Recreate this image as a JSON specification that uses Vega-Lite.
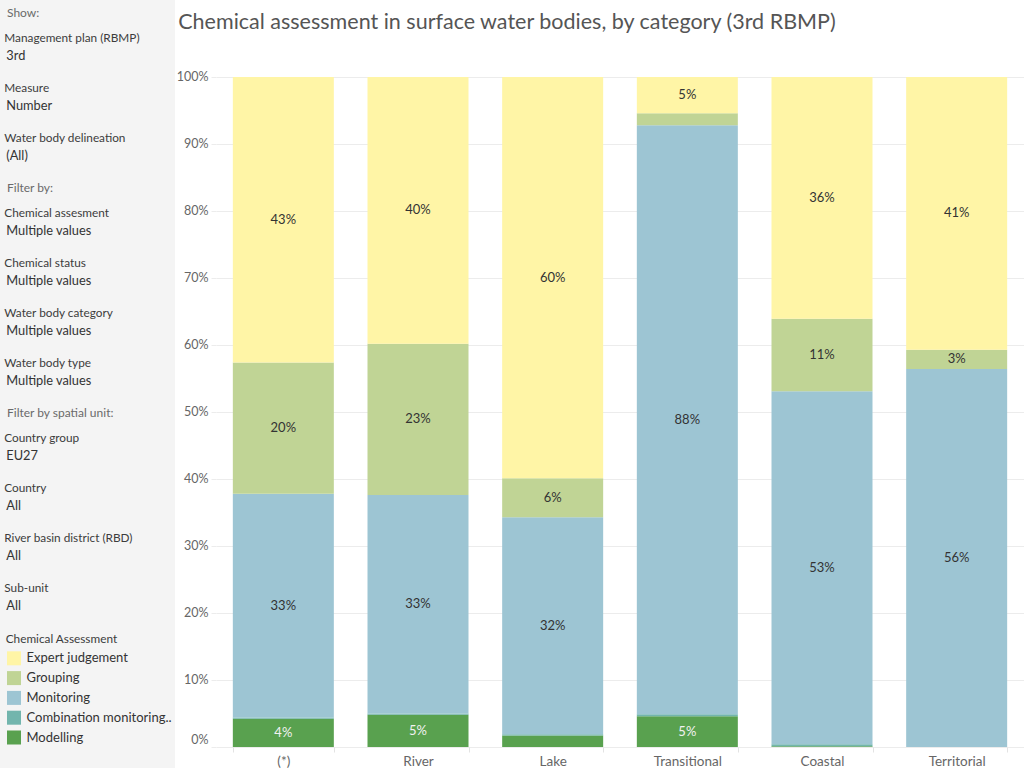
{
  "$schema": "https://vega.github.io/schema/vega-lite/v6.json",
  "padding": 0,
  "background": "white",
  "spacing": 1,
  "config": {"view": {"stroke": null}, "font": "Lato"},
  "datasets": {
    "bars": [
      {"category": "(*)", "assessment": "Modelling", "share": 0.042},
      {"category": "(*)", "assessment": "Combination monitoring..", "share": 0.002},
      {"category": "(*)", "assessment": "Monitoring", "share": 0.334},
      {"category": "(*)", "assessment": "Grouping", "share": 0.196},
      {"category": "(*)", "assessment": "Expert judgement", "share": 0.426},
      {"category": "River", "assessment": "Modelling", "share": 0.048},
      {"category": "River", "assessment": "Combination monitoring..", "share": 0.002},
      {"category": "River", "assessment": "Monitoring", "share": 0.326},
      {"category": "River", "assessment": "Grouping", "share": 0.226},
      {"category": "River", "assessment": "Expert judgement", "share": 0.398},
      {"category": "Lake", "assessment": "Modelling", "share": 0.017},
      {"category": "Lake", "assessment": "Combination monitoring..", "share": 0.002},
      {"category": "Lake", "assessment": "Monitoring", "share": 0.324},
      {"category": "Lake", "assessment": "Grouping", "share": 0.058},
      {"category": "Lake", "assessment": "Expert judgement", "share": 0.599},
      {"category": "Transitional", "assessment": "Modelling", "share": 0.046},
      {"category": "Transitional", "assessment": "Combination monitoring..", "share": 0.003},
      {"category": "Transitional", "assessment": "Monitoring", "share": 0.879},
      {"category": "Transitional", "assessment": "Grouping", "share": 0.018},
      {"category": "Transitional", "assessment": "Expert judgement", "share": 0.054},
      {"category": "Coastal", "assessment": "Modelling", "share": 0.001},
      {"category": "Coastal", "assessment": "Combination monitoring..", "share": 0.003},
      {"category": "Coastal", "assessment": "Monitoring", "share": 0.527},
      {"category": "Coastal", "assessment": "Grouping", "share": 0.108},
      {"category": "Coastal", "assessment": "Expert judgement", "share": 0.361},
      {"category": "Territorial", "assessment": "Monitoring", "share": 0.564},
      {"category": "Territorial", "assessment": "Grouping", "share": 0.029},
      {"category": "Territorial", "assessment": "Expert judgement", "share": 0.407}
    ],
    "filters": [
      {"section": "Show:", "name": "Management plan (RBMP)", "value": "3rd"},
      {"section": "Show:", "name": "Measure", "value": "Number"},
      {"section": "Show:", "name": "Water body delineation", "value": "(All)"},
      {"section": "Filter by:", "name": "Chemical assesment", "value": "Multiple values"},
      {"section": "Filter by:", "name": "Chemical status", "value": "Multiple values"},
      {"section": "Filter by:", "name": "Water body category", "value": "Multiple values"},
      {"section": "Filter by:", "name": "Water body type", "value": "Multiple values"},
      {"section": "Filter by spatial unit:", "name": "Country group", "value": "EU27"},
      {"section": "Filter by spatial unit:", "name": "Country", "value": "All"},
      {"section": "Filter by spatial unit:", "name": "River basin district (RBD)", "value": "All"},
      {"section": "Filter by spatial unit:", "name": "Sub-unit", "value": "All"}
    ]
  },
  "hconcat": [
    {
      "width": 175,
      "height": 768,
      "view": {"fill": "#f4f4f4", "stroke": null},
      "layer": [
        {
          "data": {"name": "filters"},
          "layer": [
            {
              "transform": [{"aggregate": [{"op": "count", "as": "n"}], "groupby": ["section"]}],
              "mark": {"type": "text", "align": "left", "baseline": "middle", "fontSize": 12, "color": "#6a6a6a"},
              "encoding": {
                "x": {"datum": 7, "type": "quantitative", "scale": {"domain": [0, 175]}, "axis": null},
                "y": {"field": "section", "type": "nominal", "axis": null,
                      "scale": {"type": "point", "padding": 0, "range": [13.3, 588.3],
                                "domain": ["Show:", "Management plan (RBMP)", "gap 1", "Measure", "gap 2", "Water body delineation", "gap 3", "Filter by:", "Chemical assesment", "gap 4", "Chemical status", "gap 5", "Water body category", "gap 6", "Water body type", "gap 7", "Filter by spatial unit:", "Country group", "gap 8", "Country", "gap 9", "River basin district (RBD)", "gap 10", "Sub-unit"]}},
                "text": {"field": "section"}
              }
            },
            {
              "mark": {"type": "text", "align": "left", "baseline": "middle", "fontSize": 11.8, "color": "#3c3c3c"},
              "encoding": {
                "x": {"datum": 4.3, "type": "quantitative", "scale": {"domain": [0, 175]}, "axis": null},
                "y": {"field": "name", "type": "nominal", "axis": null,
                      "scale": {"type": "point", "padding": 0, "range": [13.3, 588.3],
                                "domain": ["Show:", "Management plan (RBMP)", "gap 1", "Measure", "gap 2", "Water body delineation", "gap 3", "Filter by:", "Chemical assesment", "gap 4", "Chemical status", "gap 5", "Water body category", "gap 6", "Water body type", "gap 7", "Filter by spatial unit:", "Country group", "gap 8", "Country", "gap 9", "River basin district (RBD)", "gap 10", "Sub-unit"]}},
                "text": {"field": "name"}
              }
            },
            {
              "mark": {"type": "text", "align": "left", "baseline": "middle", "fontSize": 12.8, "color": "#333333", "dy": 18},
              "encoding": {
                "x": {"datum": 6.3, "type": "quantitative", "scale": {"domain": [0, 175]}, "axis": null},
                "y": {"field": "name", "type": "nominal", "axis": null,
                      "scale": {"type": "point", "padding": 0, "range": [13.3, 588.3],
                                "domain": ["Show:", "Management plan (RBMP)", "gap 1", "Measure", "gap 2", "Water body delineation", "gap 3", "Filter by:", "Chemical assesment", "gap 4", "Chemical status", "gap 5", "Water body category", "gap 6", "Water body type", "gap 7", "Filter by spatial unit:", "Country group", "gap 8", "Country", "gap 9", "River basin district (RBD)", "gap 10", "Sub-unit"]}},
                "text": {"field": "value"}
              }
            }
          ]
        },
        {
          "layer": [
            {
              "data": {"values": [{"label": "Chemical Assessment"}]},
              "mark": {"type": "text", "align": "left", "baseline": "middle", "fontSize": 11.8, "color": "#3c3c3c"},
              "encoding": {
                "x": {"datum": 5.7, "type": "quantitative", "scale": {"domain": [0, 175]}, "axis": null},
                "y": {"field": "label", "type": "nominal", "axis": null,
                      "scale": {"type": "point", "padding": 0, "range": [638.5, 737.5],
                                "domain": ["Chemical Assessment", "Expert judgement", "Grouping", "Monitoring", "Combination monitoring..", "Modelling"]}},
                "text": {"field": "label"}
              }
            },
            {
              "data": {"name": "bars"},
              "transform": [{"aggregate": [{"op": "count", "as": "n"}], "groupby": ["assessment"]}],
              "mark": {"type": "square", "size": 196, "opacity": 1},
              "encoding": {
                "x": {"datum": 14, "type": "quantitative", "scale": {"domain": [0, 175]}, "axis": null},
                "y": {"field": "assessment", "type": "nominal", "axis": null,
                      "scale": {"type": "point", "padding": 0, "range": [638.5, 737.5],
                                "domain": ["Chemical Assessment", "Expert judgement", "Grouping", "Monitoring", "Combination monitoring..", "Modelling"]}},
                "color": {"field": "assessment", "type": "nominal", "legend": null,
                          "scale": {"domain": ["Expert judgement", "Grouping", "Monitoring", "Combination monitoring..", "Modelling"],
                                    "range": ["#fff5a6", "#c0d495", "#9dc5d3", "#72b5ad", "#59a14f"]}}
              }
            },
            {
              "data": {"name": "bars"},
              "transform": [{"aggregate": [{"op": "count", "as": "n"}], "groupby": ["assessment"]}],
              "mark": {"type": "text", "align": "left", "baseline": "middle", "fontSize": 13, "color": "#333333"},
              "encoding": {
                "x": {"datum": 26.5, "type": "quantitative", "scale": {"domain": [0, 175]}, "axis": null},
                "y": {"field": "assessment", "type": "nominal", "axis": null,
                      "scale": {"type": "point", "padding": 0, "range": [638.5, 737.5],
                                "domain": ["Chemical Assessment", "Expert judgement", "Grouping", "Monitoring", "Combination monitoring..", "Modelling"]}},
                "text": {"field": "assessment"}
              }
            }
          ]
        }
      ],
      "resolve": {"scale": {"y": "independent"}}
    },
    {
      "width": 808,
      "height": 747,
      "title": {
        "text": "Chemical assessment in surface water bodies, by category (3rd RBMP)",
        "anchor": "start",
        "frame": "bounds",
        "baseline": "top",
        "fontSize": 21.5,
        "fontWeight": "normal",
        "color": "#555555",
        "dx": 2,
        "offset": -33
      },
      "data": {"name": "bars"},
      "transform": [
        {"calculate": "indexof(['Modelling', 'Combination monitoring..', 'Monitoring', 'Grouping', 'Expert judgement'], datum.assessment)", "as": "rank"}
      ],
      "encoding": {
        "x": {
          "field": "category", "type": "nominal",
          "sort": ["(*)", "River", "Lake", "Transitional", "Coastal", "Territorial"],
          "scale": {"paddingInner": 0.25, "paddingOuter": 0.125},
          "axis": {"title": null, "labelAngle": 0, "domain": false, "ticks": true, "tickBand": "extent", "tickSize": 5,
                   "tickColor": "#e3e3e3", "labelColor": "#666666", "labelFontSize": 13.5, "labelPadding": 2, "grid": false}
        },
        "y": {
          "field": "share", "type": "quantitative", "stack": "normalize",
          "scale": {"domain": [0, 1.1149], "nice": false},
          "axis": {"title": null, "format": ".0%", "values": [0, 0.1, 0.2, 0.3, 0.4, 0.5, 0.6, 0.7, 0.8, 0.9, 1],
                   "domain": false, "tickSize": 5, "tickColor": "#ececec", "gridColor": "#ececec",
                   "labelColor": "#666666", "labelFontSize": 12.5, "labelPadding": 3,
                   "labelOffset": {"condition": {"test": "datum.value === 0", "value": -8}, "value": 0}}
        },
        "order": {"field": "rank", "type": "quantitative"}
      },
      "layer": [
        {
          "mark": {"type": "bar"},
          "encoding": {
            "color": {"field": "assessment", "type": "nominal", "legend": null,
                      "scale": {"domain": ["Expert judgement", "Grouping", "Monitoring", "Combination monitoring..", "Modelling"],
                                "range": ["#fff5a6", "#c0d495", "#9dc5d3", "#72b5ad", "#59a14f"]}}
          }
        },
        {
          "mark": {"type": "text", "fontSize": 13, "baseline": "middle", "align": "center"},
          "encoding": {
            "y": {"field": "share", "type": "quantitative", "stack": "normalize", "bandPosition": 0.5},
            "detail": {"field": "assessment"},
            "text": {"condition": {"test": "datum.share >= 0.025", "field": "share", "type": "quantitative", "format": ".0%"}, "value": ""},
            "color": {"condition": {"test": "datum.assessment === 'Modelling'", "value": "#f2f2f2"}, "value": "#333333"}
          }
        }
      ]
    }
  ]
}
